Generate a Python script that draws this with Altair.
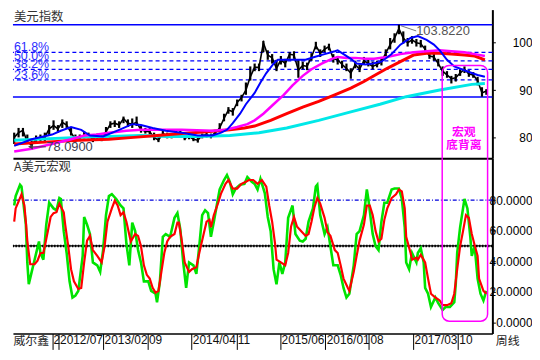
import altair as alt
import pandas as pd

# ---------------- data ----------------
START = "2011-12-02"            # first weekly bar shown
PRICE_STEP_DAYS = 21             # one sample every 3 weeks
X_DOMAIN = ("2011-11-26", "2018-03-17")

price_close = [80.0, 81.0, 81.5, 79.0, 78.4, 79.6, 79.8, 80.0, 81.8, 82.5,
               81.8, 83.2, 82.6, 81.0, 79.6, 79.8, 80.5, 80.3, 79.6, 80.2,
               79.8, 81.2, 82.8, 83.0, 82.6, 84.0, 83.0, 82.8, 83.2, 81.6,
               81.3, 81.2, 80.0, 79.4, 80.8, 80.4, 80.2, 81.0, 80.8, 79.8,
               80.2, 79.6, 79.4, 80.4, 80.6, 80.2, 81.0, 82.0, 84.0, 85.8,
               85.4, 87.4, 88.4, 90.0, 92.8, 94.8, 94.8, 100.0, 97.4, 96.8,
               94.6, 96.4, 95.6, 97.6, 97.4, 94.2, 95.2, 95.0, 97.0, 99.4,
               97.8, 98.6, 99.2, 96.6, 96.4, 95.4, 94.6, 93.6, 95.4, 94.4,
               96.2, 95.6, 95.0, 95.4, 96.0, 97.8, 99.6, 101.0, 103.0, 101.0,
               100.0, 100.6, 100.0, 99.8, 98.6, 97.2, 97.0, 95.6, 94.0, 93.2,
               92.4, 92.6, 93.6, 94.4, 93.4, 93.2, 92.0, 89.4, 89.8]
price_low = [78.6, 80.0, 80.2, 78.6, 78.1, 79.0, 79.2, 79.2, 80.4, 81.6,
             81.0, 82.0, 82.0, 80.4, 79.0, 79.2, 79.8, 79.8, 79.0, 79.4,
             79.2, 80.4, 82.0, 82.2, 82.0, 83.0, 82.2, 82.0, 82.4, 81.0,
             80.8, 80.6, 79.4, 79.0, 80.2, 79.8, 79.8, 80.4, 80.2, 79.4,
             79.6, 79.2, 78.9, 79.8, 80.0, 79.8, 80.6, 81.4, 83.4, 85.0,
             84.6, 86.6, 87.6, 89.0, 92.0, 94.0, 94.0, 98.0, 96.4, 95.6,
             94.0, 95.4, 94.8, 96.6, 96.6, 92.6, 94.4, 94.2, 96.2, 98.6,
             97.0, 98.0, 98.4, 95.8, 95.4, 94.6, 94.0, 92.4, 94.6, 93.8,
             95.4, 95.0, 94.4, 94.8, 95.2, 97.0, 98.6, 100.0, 101.8, 99.8,
             99.2, 99.8, 99.2, 99.0, 97.6, 96.6, 96.2, 95.0, 93.0, 92.6,
             91.4, 91.8, 93.0, 93.6, 92.8, 92.6, 91.0, 88.6, 89.0]
price_high = [81.0, 82.0, 82.0, 80.6, 79.6, 80.4, 80.6, 81.0, 82.6, 83.6,
              82.6, 83.8, 83.4, 82.0, 80.6, 80.6, 81.2, 81.0, 80.4, 80.8,
              80.6, 82.2, 83.4, 83.6, 83.4, 84.4, 83.8, 84.0, 84.4, 82.4,
              82.0, 82.0, 81.0, 80.0, 81.4, 81.0, 80.8, 81.6, 81.4, 80.4,
              80.8, 80.2, 80.0, 80.8, 81.0, 80.8, 81.6, 83.0, 85.0, 86.4,
              86.2, 88.0, 89.0, 91.6, 95.0, 95.6, 95.6, 100.4, 98.4, 97.6,
              96.4, 97.2, 96.6, 98.0, 98.2, 96.4, 96.0, 95.8, 97.8, 100.2,
              98.6, 99.4, 99.8, 97.6, 97.2, 96.2, 95.6, 94.6, 96.2, 95.4,
              97.0, 96.6, 96.0, 96.2, 97.0, 98.6, 101.0, 102.0, 103.8, 102.4,
              101.0, 101.4, 100.8, 100.6, 99.4, 98.2, 97.8, 96.6, 95.0, 94.0,
              93.0, 93.4, 94.4, 95.0, 94.2, 93.8, 92.8, 90.6, 90.2]

# moving averages: (week offset from START, value)
ma_blue = [(0, 78.2), (12, 79.6), (26, 80.6), (32, 81.4), (39, 82.2), (46, 81.6),
           (52, 80.4), (61, 80.2), (72, 81.6), (81, 82.8), (87, 82.6), (95, 82.0),
           (104, 81.4), (115, 81.0), (126, 80.4), (136, 80.4), (142, 81.0),
           (146, 81.6), (150, 83.0), (155, 85.0), (159, 87.0), (165, 89.4),
           (169, 91.6), (173, 93.6), (178, 95.6), (181, 96.4), (187, 96.4),
           (193, 96.4), (200, 96.4), (206, 97.0), (213, 97.6), (220, 98.2),
           (222, 98.4), (226, 97.6), (231, 96.6), (235, 95.6), (241, 95.4),
           (246, 95.6), (252, 96.0), (259, 97.6), (265, 99.6), (272, 101.0),
           (277, 101.4), (283, 100.6), (288, 99.6), (292, 98.4), (297, 96.4),
           (302, 95.0), (307, 94.4), (314, 93.6), (318, 93.2), (323, 92.8)]
ma_magenta = [(0, 77.0), (12, 77.6), (26, 78.6), (39, 79.6), (48, 80.4), (57, 80.6),
              (65, 81.0), (77, 81.4), (87, 81.6), (98, 81.6), (115, 81.6),
              (136, 81.4), (145, 81.6), (153, 82.2), (160, 82.8), (165, 83.6),
              (171, 85.0), (178, 87.0), (185, 89.0), (191, 91.0), (198, 93.0),
              (204, 94.4), (211, 95.6), (218, 96.6), (222, 97.0), (228, 96.8),
              (234, 96.8), (241, 96.6), (247, 96.6), (256, 97.0), (265, 97.6),
              (274, 98.0), (283, 98.2), (292, 98.4), (300, 98.2), (309, 98.0),
              (316, 97.6), (323, 97.2)]
ma_red = [(0, 78.6), (21, 79.0), (44, 79.4), (65, 79.6), (82, 80.0), (98, 80.4),
          (115, 80.8), (132, 81.2), (148, 81.6), (158, 82.0), (165, 82.4),
          (176, 83.6), (187, 85.0), (198, 86.4), (209, 87.6), (220, 89.0),
          (231, 90.4), (240, 91.8), (249, 93.4), (256, 94.6), (265, 96.0),
          (274, 97.4), (283, 97.8), (292, 97.8), (300, 97.6), (309, 97.4),
          (316, 97.2), (323, 96.4)]
ma_cyan = [(0, 79.4), (44, 80.0), (87, 80.4), (105, 80.2), (126, 80.2), (148, 80.4),
           (168, 81.0), (187, 82.0), (209, 83.6), (231, 85.4), (251, 87.0),
           (269, 88.6), (292, 90.0), (314, 91.2), (323, 91.4)]

fib_top, fib_bottom = 103.82, 88.54
fib_dashed = [97.98, 96.18, 94.38, 92.15]
fib_labels = ["61.8%", "50.0%", "38.2%", "23.6%"]

# oscillator "A美元宏观": (week offset, value)
osc_green = [(0, 76.5), (1, 82.7), (4, 90.1), (5, 88.9), (6, 80.8), (8, 64.0), (9, 39.2),
             (10, 24.9), (12, 33.0), (14, 41.0), (17, 52.9), (18, 45.4), (20, 41.0),
             (22, 64.0), (24, 78.3), (27, 74.6), (29, 73.4), (31, 81.4), (32, 80.8),
             (34, 59.7), (36, 45.4), (38, 26.8), (40, 16.2), (42, 17.5), (44, 20.6),
             (47, 43.5), (48, 69.0), (50, 64.0), (52, 57.8), (54, 39.2), (57, 37.3),
             (59, 33.0), (61, 47.3), (63, 70.2), (65, 82.7), (67, 83.9), (70, 80.8),
             (73, 76.5), (75, 74.6), (77, 51.6), (79, 37.3), (81, 65.3), (83, 59.7),
             (85, 47.3), (87, 39.2), (89, 26.8), (92, 26.8), (94, 20.6), (97, 18.7),
             (98, 13.1), (100, 26.8), (102, 56.0), (104, 57.8), (107, 56.0),
             (110, 68.4), (112, 71.5), (114, 60.9), (116, 39.2), (118, 22.5),
             (120, 39.2), (123, 37.3), (125, 31.7), (127, 49.8), (129, 70.2),
             (131, 73.4), (133, 71.5), (135, 56.0), (137, 65.9), (139, 76.5),
             (141, 87.0), (144, 93.2), (146, 96.4), (148, 92.0), (150, 83.9),
             (152, 87.6), (155, 90.1), (158, 90.7), (160, 95.1), (163, 92.0),
             (165, 90.7), (167, 87.0), (169, 93.9), (172, 84.5), (174, 69.0),
             (176, 59.7), (178, 34.8), (180, 24.9), (182, 39.2), (184, 31.7),
             (186, 39.2), (188, 68.4), (191, 76.5), (193, 57.8), (196, 53.5),
             (198, 52.9), (200, 54.7), (202, 65.9), (205, 74.6), (207, 88.9),
             (208, 90.1), (210, 70.2), (213, 57.8), (215, 62.2), (217, 49.8),
             (219, 37.3), (222, 37.3), (224, 31.1), (226, 22.5), (228, 16.2),
             (230, 18.7), (233, 37.3), (235, 57.8), (237, 59.7), (240, 70.2),
             (242, 87.0), (243, 80.8), (246, 57.8), (248, 49.8), (250, 47.3),
             (252, 65.9), (254, 78.3), (256, 78.3), (259, 87.0), (261, 87.6),
             (264, 87.6), (266, 80.8), (268, 62.2), (269, 39.2), (271, 34.8),
             (273, 45.4), (276, 39.2), (277, 45.4), (279, 48.5), (281, 39.2),
             (282, 22.5), (284, 18.7), (286, 10.0), (289, 16.2), (291, 12.5),
             (294, 8.1), (296, 10.0), (299, 10.0), (302, 13.1), (303, 24.9),
             (304, 45.4), (306, 62.2), (308, 74.6), (309, 80.8), (311, 74.6),
             (313, 56.0), (314, 43.5), (316, 49.8), (318, 28.6), (320, 18.7),
             (322, 14.3), (324, 20.6)]
osc_red = [(0, 65.9), (1, 74.6), (4, 81.4), (5, 83.9), (7, 76.5), (8, 65.9), (9, 53.5),
           (10, 45.4), (11, 38.0), (14, 38.0), (16, 40.4), (18, 45.4), (20, 45.4),
           (21, 49.8), (24, 64.0), (25, 69.0), (27, 71.5), (29, 72.1), (31, 77.7),
           (34, 72.1), (35, 64.0), (37, 50.4), (39, 34.8), (41, 26.8), (44, 21.8),
           (46, 22.5), (48, 39.2), (50, 53.5), (52, 56.6), (54, 47.3), (57, 43.5),
           (60, 39.2), (62, 49.8), (64, 65.9), (67, 74.6), (69, 79.6), (71, 76.5),
           (73, 70.2), (75, 72.1), (77, 65.9), (80, 52.9), (83, 57.8), (85, 56.6),
           (87, 49.8), (89, 37.3), (91, 31.1), (93, 28.6), (95, 22.5), (97, 19.4),
           (99, 20.6), (101, 33.0), (103, 45.4), (105, 52.9), (107, 56.0),
           (110, 57.8), (112, 65.3), (113, 65.3), (115, 53.5), (117, 39.2),
           (120, 33.0), (122, 34.8), (125, 36.1), (127, 45.4), (130, 57.8),
           (132, 65.9), (134, 67.1), (135, 62.2), (137, 70.2), (140, 78.3),
           (142, 84.5), (145, 90.7), (147, 93.2), (150, 87.6), (153, 87.6),
           (156, 90.7), (159, 92.0), (161, 93.2), (164, 93.2), (167, 90.7),
           (170, 93.2), (173, 88.9), (175, 76.5), (177, 65.9), (179, 51.6),
           (180, 41.0), (183, 39.2), (186, 37.3), (188, 45.4), (190, 62.8),
           (192, 69.0), (194, 62.8), (197, 59.7), (200, 56.6), (202, 57.8),
           (204, 65.9), (206, 75.2), (208, 81.4), (210, 77.7), (213, 68.4),
           (215, 59.1), (217, 56.6), (220, 47.3), (222, 45.4), (224, 37.3),
           (226, 28.6), (229, 22.5), (230, 20.6), (233, 33.0), (235, 43.5),
           (237, 53.5), (240, 64.0), (242, 76.5), (244, 76.5), (246, 70.2),
           (248, 59.7), (250, 52.9), (252, 54.7), (254, 67.1), (256, 74.6),
           (259, 81.4), (262, 83.9), (264, 87.0), (266, 85.8), (268, 74.6),
           (269, 56.0), (272, 45.4), (273, 41.0), (276, 42.3), (277, 41.0),
           (279, 44.2), (282, 39.2), (284, 28.6), (286, 18.7), (289, 16.2),
           (292, 14.3), (294, 11.2), (297, 11.2), (300, 12.5), (302, 18.7),
           (304, 34.8), (306, 49.8), (308, 59.7), (310, 70.2), (312, 68.4),
           (314, 57.8), (316, 50.4), (318, 43.5), (319, 28.6), (322, 20.6),
           (324, 18.7)]

tick_dates = ["2012-06-01", "2012-07-02", "2013-02-01", "2013-09-02", "2014-04-01",
              "2014-11-03", "2015-06-01", "2016-01-04", "2016-08-01", "2017-03-01",
              "2017-10-02"]
tick_labels = ["2", "2012/07", "2013/02", "09", "2014/04", "11", "2015/06",
               "2016/01", "08", "2017/03", "10"]

# annotations
peak_label = "103.8220"
peak_point = ("2017-01-01", 103.6)
peak_text_at = ("2017-03-16", 102.5)
low_label = "78.0900"
low_arrow = ("2012-02-18", "2012-05-02", 78.0)
low_text_at = ("2012-05-04", 78.0)
box_dates = ("2017-07-19", "2018-02-22")
box_top_value = 95.2
box_bottom_osc = 0.7
box_text = [("宏观", "2017-10-31", 81.2), ("底背离", "2017-10-31", 78.3)]

# ---------------- helpers ----------------
W, H_TOP, H_LOW = 484, 150, 177
LAT = "Liberation Sans, Noto Sans CJK SC"
CJK = "Noto Sans CJK SC"
start = pd.Timestamp(START)


def wk(w):
    return start + pd.to_timedelta(w * 7, unit="D")


def dtm(s):
    t = pd.Timestamp(s)
    return alt.DateTime(year=t.year, month=t.month, date=t.day)


def pairs_df(pairs):
    return pd.DataFrame({"date": [wk(p[0]) for p in pairs], "value": [p[1] for p in pairs]})


xscale = alt.Scale(domain=[dtm(X_DOMAIN[0]), dtm(X_DOMAIN[1])])

# --------- upper panel ---------
top_x_axis = alt.Axis(labels=False, ticks=False, domain=True, domainColor="black",
                      domainWidth=2, title=None, grid=False)
top_y_axis = alt.Axis(orient="right", values=[80, 90, 100], tickSize=3, tickColor="black",
                      labelPadding=37, labelAlign="right", labelFontSize=12,
                      labelColor="black", labelFont=LAT, domainColor="black",
                      domainWidth=2, grid=False, title=None)
top_yscale = alt.Scale(domain=[75.6, 107.0], nice=False, zero=False)
XT = alt.X("date:T", scale=xscale, axis=top_x_axis)
YT = alt.Y("value:Q", scale=top_yscale, axis=top_y_axis)

price_df = pd.DataFrame({
    "date": [start + pd.to_timedelta(i * PRICE_STEP_DAYS, unit="D") for i in range(len(price_close))],
    "value": price_close,
    "low": price_low,
    "high": price_high,
})

solid_fib = alt.Chart(pd.DataFrame({"value": [fib_top, fib_bottom]})).mark_rule(
    color="#0000ff", strokeWidth=1.5).encode(y=YT)
dash_fib = alt.Chart(pd.DataFrame({"value": fib_dashed})).mark_rule(
    color="#0000ff", strokeWidth=1.3, strokeDash=[4, 3]).encode(y=YT)
fib_text = alt.Chart(pd.DataFrame({"date": [pd.Timestamp(X_DOMAIN[0])] * 4,
                                   "value": fib_dashed, "label": fib_labels})).mark_text(
    align="left", baseline="alphabetic", dx=1, dy=-1, fontSize=12.5, font=LAT,
    color="#2b2bff").encode(x=XT, y=YT, text="label:N")

price_bars = alt.Chart(price_df).mark_rule(color="black", strokeWidth=2.2).encode(
    x=XT, y=alt.Y("low:Q", scale=top_yscale, axis=top_y_axis), y2="high:Q")
price_line = alt.Chart(price_df).mark_line(color="black", strokeWidth=1.6).encode(x=XT, y=YT)


def ma_line(pairs, color, width):
    return alt.Chart(pairs_df(pairs)).mark_line(color=color, strokeWidth=width).encode(x=XT, y=YT)


top_title = alt.Chart(pd.DataFrame({"date": [pd.Timestamp(X_DOMAIN[0])], "value": [107.0],
                                    "t": ["美元指数"]})).mark_text(
    align="left", baseline="top", dx=1, dy=1, fontSize=12.5, font=CJK, color="#333333"
).encode(x=XT, y=YT, text="t:N")

peak_rule = alt.Chart(pd.DataFrame({"date": [pd.Timestamp(peak_point[0])], "value": [peak_point[1]],
                                    "date2": [pd.Timestamp(peak_text_at[0])],
                                    "value2": [peak_text_at[1]]})).mark_rule(
    color="#555555", strokeWidth=0.8).encode(x=XT, y=YT, x2="date2:T", y2="value2:Q")
peak_text = alt.Chart(pd.DataFrame({"date": [pd.Timestamp(peak_text_at[0])],
                                    "value": [peak_text_at[1]], "t": [peak_label]})).mark_text(
    align="left", baseline="middle", fontSize=13, font=LAT, color="#555555"
).encode(x=XT, y=YT, text="t:N")

low_rule = alt.Chart(pd.DataFrame({"date": [pd.Timestamp(low_arrow[0])],
                                   "date2": [pd.Timestamp(low_arrow[1])],
                                   "value": [low_arrow[2]]})).mark_rule(
    color="#404040", strokeWidth=1).encode(x=XT, x2="date2:T", y=YT)
low_head = alt.Chart(pd.DataFrame({"date": [pd.Timestamp(low_arrow[0])],
                                   "value": [low_arrow[2]]})).mark_point(
    shape="triangle-left", filled=True, size=30, color="#404040", opacity=1).encode(x=XT, y=YT)
low_text = alt.Chart(pd.DataFrame({"date": [pd.Timestamp(low_text_at[0])],
                                   "value": [low_text_at[1]], "t": [low_label]})).mark_text(
    align="left", baseline="middle", fontSize=13, font=LAT, color="#404050"
).encode(x=XT, y=YT, text="t:N")

box_top = alt.Chart(pd.DataFrame({"date": [pd.Timestamp(box_dates[0])],
                                  "date2": [pd.Timestamp(box_dates[1])],
                                  "value": [box_top_value], "value2": [60.0]})).mark_rect(
    fillOpacity=0, stroke="#ff00ff", strokeWidth=1.5, cornerRadius=7, clip=True
).encode(x=XT, x2="date2:T", y=YT, y2="value2:Q")
box_label = alt.Chart(pd.DataFrame({"date": [pd.Timestamp(b[1]) for b in box_text],
                                    "value": [b[2] for b in box_text],
                                    "t": [b[0] for b in box_text]})).mark_text(
    align="center", baseline="middle", fontSize=12, font=CJK, fontWeight="bold",
    color="#ff00ff").encode(x=XT, y=YT, text="t:N")

top = alt.layer(
    solid_fib, dash_fib, fib_text, price_bars, price_line,
    ma_line(ma_cyan, "#00e8e8", 3), ma_line(ma_red, "#ff0000", 3),
    ma_line(ma_magenta, "#ff00ff", 2.5), ma_line(ma_blue, "#0000ff", 2),
    top_title, peak_rule, peak_text, low_rule, low_head, low_text, box_top, box_label,
).properties(width=W, height=H_TOP)

# --------- lower panel ---------
label_expr = ""
for d, lab in zip(tick_dates, tick_labels):
    label_expr += f"timeFormat(datum.value, '%Y-%m-%d') == '{d}' ? '{lab}' : "
label_expr += "''"

low_x_axis = alt.Axis(values=[dtm(d) for d in tick_dates], labelExpr=label_expr,
                      tickSize=16, tickColor="black", tickWidth=1, labelAlign="left",
                      labelBaseline="top", labelPadding=-15, labelOffset=1,
                      labelOverlap=False, labelFlush=False, labelFontSize=12,
                      labelFont=LAT, labelColor="#111111", domainColor="black",
                      domainWidth=1.5, grid=False,
                      title="威尔鑫", titleX=0, titleY=2, titleAlign="left",
                      titleBaseline="top", titleFontSize=12, titleFont=CJK,
                      titleFontWeight="normal", titleColor="#222222")
low_y_axis = alt.Axis(orient="right", values=[0, 20, 40, 60, 80], format=".4f",
                      tickSize=3, tickColor="black", labelPadding=37, labelAlign="right",
                      labelFontSize=12, labelColor="black", labelFont=LAT,
                      domainColor="black", domainWidth=2, grid=False,
                      title="周线", titleAngle=0, titleX=3, titleY=H_LOW + 2,
                      titleAlign="left", titleBaseline="top", titleFontSize=12,
                      titleFont=CJK, titleFontWeight="normal", titleColor="#222222")
XL = alt.X("date:T", scale=xscale, axis=low_x_axis)
YL = alt.Y("value:Q", scale=alt.Scale(domain=[-7.4, 107.5], nice=False, zero=False),
           axis=low_y_axis)

ref80 = alt.Chart(pd.DataFrame({"value": [80]})).mark_rule(
    color="#0000dd", strokeWidth=1.2, strokeDash=[4, 2, 1, 2]).encode(y=YL)
ref50a = alt.Chart(pd.DataFrame({"value": [50]})).mark_rule(
    color="black", strokeWidth=1.2).encode(y=YL)
ref50b = alt.Chart(pd.DataFrame({"value": [50]})).mark_rule(
    color="black", strokeWidth=2.6, strokeDash=[1.5, 1.5]).encode(y=YL)
green_line = alt.Chart(pairs_df(osc_green)).mark_line(
    color="#00e400", strokeWidth=2.6).encode(x=XL, y=YL)
red_line = alt.Chart(pairs_df(osc_red)).mark_line(
    color="#ff0000", strokeWidth=2.2).encode(x=XL, y=YL)
box_low = alt.Chart(pd.DataFrame({"date": [pd.Timestamp(box_dates[0])],
                                  "date2": [pd.Timestamp(box_dates[1])],
                                  "value": [130.0], "value2": [box_bottom_osc]})).mark_rect(
    fillOpacity=0, stroke="#ff00ff", strokeWidth=1.5, cornerRadius=7, clip=True
).encode(x=XL, x2="date2:T", y=YL, y2="value2:Q")
low_title = alt.Chart(pd.DataFrame({"date": [pd.Timestamp(X_DOMAIN[0])], "value": [107.5],
                                    "t": ["A美元宏观"]})).mark_text(
    align="left", baseline="top", dx=1, dy=3, fontSize=12.5, font=CJK, color="#333333"
).encode(x=XL, y=YL, text="t:N")

bottom = alt.layer(ref80, ref50a, ref50b, green_line, red_line, box_low, low_title
                   ).properties(width=W, height=H_LOW)

chart = alt.vconcat(top, bottom, spacing=0).resolve_scale(
    x="independent", y="independent").properties(padding=0, background="white"
).configure_view(stroke=None)

chart.save("out.html", embed_options={"renderer": "svg", "actions": False})
